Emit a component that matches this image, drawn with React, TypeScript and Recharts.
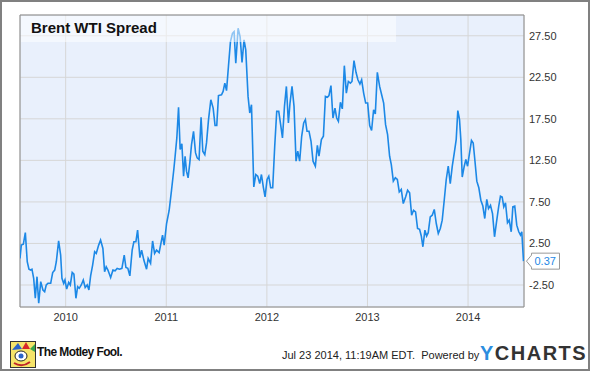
import { LineChart, Line, XAxis, YAxis, CartesianGrid, ReferenceArea, ReferenceDot } from "recharts";

// weekly Brent - WTI spread, decimal year / USD
const dates = [
  2009.546, 2009.559, 2009.579, 2009.599, 2009.618, 2009.635, 2009.652, 2009.665, 2009.682, 2009.698,
  2009.715, 2009.732, 2009.752, 2009.774, 2009.791, 2009.807, 2009.824, 2009.851, 2009.871, 2009.891,
  2009.907, 2009.93, 2009.95, 2009.963, 2009.98, 2009.993, 2010.01, 2010.03, 2010.046, 2010.065,
  2010.082, 2010.102, 2010.119, 2010.135, 2010.155, 2010.175, 2010.194, 2010.214, 2010.231, 2010.248,
  2010.268, 2010.288, 2010.304, 2010.328, 2010.347, 2010.37, 2010.387, 2010.403, 2010.42, 2010.447,
  2010.47, 2010.492, 2010.512, 2010.536, 2010.559, 2010.582, 2010.599, 2010.618, 2010.638, 2010.661,
  2010.678, 2010.698, 2010.715, 2010.738, 2010.755, 2010.777, 2010.804, 2010.82, 2010.844, 2010.864,
  2010.884, 2010.903, 2010.929, 2010.953, 2010.963, 2010.979, 2011.003, 2011.029, 2011.052, 2011.075,
  2011.088, 2011.105, 2011.122, 2011.138, 2011.155, 2011.172, 2011.187, 2011.201, 2011.217, 2011.234,
  2011.251, 2011.271, 2011.291, 2011.307, 2011.326, 2011.346, 2011.363, 2011.383, 2011.4, 2011.42,
  2011.443, 2011.466, 2011.485, 2011.502, 2011.519, 2011.549, 2011.565, 2011.582, 2011.599, 2011.618,
  2011.638, 2011.658, 2011.674, 2011.691, 2011.714, 2011.734, 2011.753, 2011.773, 2011.79, 2011.813,
  2011.83, 2011.847, 2011.87, 2011.89, 2011.909, 2011.929, 2011.946, 2011.966, 2011.982, 2012.002,
  2012.019, 2012.038, 2012.058, 2012.078, 2012.098, 2012.118, 2012.138, 2012.155, 2012.175, 2012.194,
  2012.214, 2012.23, 2012.25, 2012.27, 2012.29, 2012.307, 2012.326, 2012.346, 2012.366, 2012.383,
  2012.399, 2012.419, 2012.439, 2012.459, 2012.482, 2012.502, 2012.518, 2012.542, 2012.562, 2012.582,
  2012.602, 2012.617, 2012.637, 2012.657, 2012.677, 2012.694, 2012.711, 2012.731, 2012.75, 2012.77,
  2012.79, 2012.81, 2012.83, 2012.846, 2012.866, 2012.886, 2012.905, 2012.925, 2012.942, 2012.962,
  2012.982, 2013.002, 2013.022, 2013.041, 2013.061, 2013.078, 2013.098, 2013.121, 2013.141, 2013.161,
  2013.18, 2013.2, 2013.22, 2013.237, 2013.257, 2013.277, 2013.297, 2013.316, 2013.336, 2013.356,
  2013.379, 2013.399, 2013.419, 2013.439, 2013.458, 2013.478, 2013.498, 2013.518, 2013.535, 2013.551,
  2013.571, 2013.588, 2013.604, 2013.624, 2013.644, 2013.664, 2013.684, 2013.704, 2013.724, 2013.743,
  2013.763, 2013.783, 2013.803, 2013.823, 2013.843, 2013.863, 2013.882, 2013.898, 2013.915, 2013.928,
  2013.942, 2013.962, 2013.978, 2013.995, 2014.015, 2014.034, 2014.051, 2014.067, 2014.087, 2014.107,
  2014.127, 2014.147, 2014.166, 2014.186, 2014.203, 2014.223, 2014.243, 2014.263, 2014.283, 2014.305,
  2014.322, 2014.339, 2014.355, 2014.372, 2014.392, 2014.409, 2014.429, 2014.445, 2014.464, 2014.484,
  2014.504, 2014.521, 2014.534, 2014.551,
];

const spread = [
  0.7, 2.3, 2.4, 3.8, 0.3, -0.6, -0.7, -0.6, -1.7, -4.1,
  -1.5, -4.7, -2.1, -3.1, -3.3, -2.5, -2.3, -2.3, -1.0, -0.7,
  0.3, 2.8, 1.1, -1.7, -2.3, -1.9, -3.0, -2.2, -2.5, -1.0,
  -1.2, -4.1, -2.7, -2.9, -2.5, -1.9, -2.8, -2.5, -3.1, -1.4,
  -0.1, 1.5, 1.3, 2.3, 2.9, 1.9, -0.9, -0.3, -0.7, -1.6,
  -0.7, -0.8, -0.5, -0.6, -0.5, 1.1, -0.4, -0.5, -1.4, 1.7,
  2.7, 2.7, 4.1, 0.8, 1.7, 0.5, -0.6, 0.7, 0.1, 2.8,
  1.3, 1.7, 1.4, 2.9, 3.5, 2.3, 4.9, 6.5, 8.9, 11.4,
  13.0, 15.2, 18.9, 13.8, 14.5, 10.6, 13.0, 11.2, 10.4, 12.2,
  14.4, 16.0, 13.4, 12.8, 12.6, 17.7, 13.6, 13.2, 14.6, 17.4,
  19.8, 18.8, 16.7, 16.7, 20.3, 20.4, 20.8, 21.8, 20.9, 23.8,
  26.8, 27.8, 28.0, 24.2, 28.4, 27.4, 24.3, 27.0, 25.8, 20.2,
  18.2, 19.2, 9.3, 10.8, 10.6, 9.7, 10.8, 9.2, 8.1, 10.2,
  10.6, 9.2, 9.2, 14.2, 18.4, 18.4, 16.7, 15.2, 19.0, 21.4,
  17.0, 19.4, 21.4, 19.0, 12.4, 13.6, 12.4, 15.4, 17.0, 17.4,
  16.0, 16.0, 14.8, 12.4, 11.8, 14.3, 13.0, 15.0, 15.4, 20.2,
  20.1, 20.3, 21.5, 17.6, 18.8, 17.6, 17.2, 19.5, 18.7, 23.9,
  20.6, 22.0, 21.8, 22.0, 24.5, 23.1, 22.2, 21.7, 22.2, 20.6,
  19.4, 19.4, 16.7, 16.1, 18.6, 18.1, 23.1, 21.4, 20.4, 19.4,
  16.8, 15.6, 13.0, 12.0, 10.0, 10.4, 10.2, 8.7, 9.0, 7.3,
  8.1, 8.9, 8.6, 5.9, 6.5, 6.3, 4.3, 4.2, 3.4, 2.1,
  4.1, 3.4, 3.8, 5.7, 5.9, 6.6, 4.9, 3.7, 4.3, 5.3,
  7.7, 10.2, 11.8, 9.7, 11.8, 13.4, 15.0, 18.5, 17.4, 15.0,
  10.5, 11.8, 12.6, 11.8, 13.4, 14.9, 14.6, 12.6, 10.0, 9.2,
  7.7, 7.0, 5.5, 7.8, 6.7, 7.1, 6.1, 3.3, 5.1, 7.0,
  8.2, 8.1, 6.9, 7.4, 5.0, 5.3, 3.9, 6.9, 7.0, 4.7,
  3.9, 3.5, 3.9, 0.37,
];

const yearTicks = [2010, 2011, 2012, 2013, 2014];
const valueTicks = [-2.5, 2.5, 7.5, 12.5, 17.5, 22.5, 27.5];

const xDomain = [2009.546, 2014.556];
const yDomain = [-5.15, 30];

const chartData = dates.map((d, i) => ({ date: d, spread: spread[i] }));
const last = chartData[chartData.length - 1];

const font = "'Liberation Sans', Arial, sans-serif";

const ValueFlag = ({ cx, cy, value }: { cx?: number; cy?: number; value: number }) => {
  if (cx == null || cy == null) return null;
  const x = cx + 3;
  return (
    <g>
      <path
        d={`M${x},${cy} L${x + 5},${cy - 6} L${x + 5},${cy - 8} L${x + 33},${cy - 8} L${x + 33},${cy + 8} L${x + 5},${cy + 8} L${x + 5},${cy + 6} Z`}
        fill="#fff"
        stroke="#999"
        strokeWidth={1}
      />
      <text x={x + 8} y={cy + 4} fontSize={11} fontFamily={font} fill="#1e88e5">
        {value.toFixed(2)}
      </text>
    </g>
  );
};

const Jester = () => (
  <svg width={26} height={27} style={{ position: "absolute", left: 8, top: 339 }}>
    <rect x={0.5} y={0.5} width={25} height={26} fill="#f6e46a" stroke="#333" />
    <path d="M2,9 L8,2 L12,8 Z" fill="#2a63c8" />
    <path d="M12,8 L16,1 L20,8 Z" fill="#d8262a" />
    <path d="M20,8 L25,3 L25,11 Z" fill="#3aa64a" />
    <ellipse cx={11} cy={15} rx={6} ry={5} fill="#fff" stroke="#222" />
    <circle cx={11} cy={15} r={2.5} fill="#2a63c8" />
    <path d="M4,22 Q12,27 20,21" stroke="#c0262a" strokeWidth={2} fill="none" />
  </svg>
);

export default function App() {
  return (
    <div
      style={{
        position: "absolute",
        left: 0,
        top: 0,
        width: 590,
        height: 371,
        boxSizing: "border-box",
        border: "2px solid #808080",
        background: "#fff",
        fontFamily: font,
      }}
    >
      <div style={{ position: "absolute", left: -2, top: -2 }}>
        <LineChart width={590} height={371} data={chartData} margin={{ top: 15, right: 0, bottom: 0, left: 20 }}>
          <CartesianGrid stroke="#d6d6d6" fill="#e9f0fc" />
          <XAxis
            dataKey="date"
            type="number"
            domain={xDomain}
            ticks={yearTicks}
            tickFormatter={(v) => String(v)}
            allowDataOverflow
            axisLine={false}
            tickLine={false}
            tickSize={4}
            tickMargin={2}
            height={64}
            tick={{ fontSize: 11, fill: "#333", fontFamily: font }}
          />
          <YAxis
            orientation="right"
            type="number"
            domain={yDomain}
            ticks={valueTicks}
            tickFormatter={(v) => v.toFixed(2)}
            allowDataOverflow
            axisLine={false}
            tickLine={false}
            tickSize={3}
            tickMargin={2}
            width={66}
            tick={{ fontSize: 11, fill: "#333", fontFamily: font, textAnchor: "start" }}
          />
          <Line
            type="linear"
            dataKey="spread"
            stroke="#1c88e6"
            strokeWidth={1.6}
            dot={false}
            isAnimationActive={false}
          />
          <ReferenceArea
            x1={xDomain[0]}
            x2={xDomain[1]}
            y1={yDomain[0]}
            y2={yDomain[1]}
            fill="none"
            fillOpacity={0}
            stroke="#8c8c8c"
            strokeWidth={1}
          />
          <ReferenceDot
            x={last.date}
            y={last.spread}
            r={0}
            shape={(p: any) => <ValueFlag cx={p.cx} cy={p.cy} value={last.spread} />}
          />
        </LineChart>
      </div>
      {/* translucent title band drawn over the plot */}
      <div
        style={{
          position: "absolute",
          left: 19,
          top: 14,
          width: 375,
          height: 26,
          background: "rgba(255,255,255,0.5)",
        }}
      />
      <div
        style={{
          position: "absolute",
          left: 29,
          top: 17,
          fontSize: 15,
          fontWeight: "bold",
          color: "#111",
        }}
      >
        Brent WTI Spread
      </div>
      <Jester />
      <div
        style={{
          position: "absolute",
          left: 35,
          top: 343,
          fontSize: 12,
          fontWeight: "bold",
          letterSpacing: -0.6,
          color: "#111",
        }}
      >
        The Motley Fool.
      </div>
      <div style={{ position: "absolute", left: 280, top: 347, fontSize: 11, color: "#222" }}>
        Jul 23 2014, 11:19AM EDT.&nbsp; Powered by
      </div>
      <div
        style={{
          position: "absolute",
          left: 478,
          top: 340,
          fontSize: 20,
          fontWeight: "bold",
          letterSpacing: 1.5,
          color: "#333",
        }}
      >
        <span style={{ color: "#2b8ddf" }}>Y</span>CHARTS
      </div>
    </div>
  );
}
